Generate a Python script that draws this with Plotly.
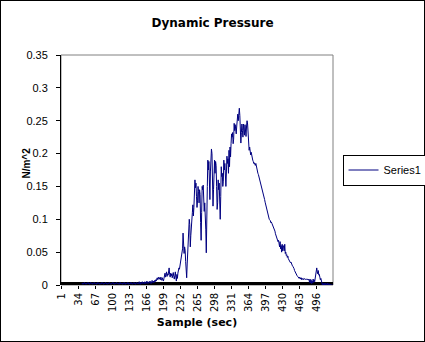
import plotly.graph_objects as go

# Dynamic pressure per sample (N/m^2); samples 1-40 carry no reading
pressure = [
    None, None, None, None, None, None, None, None, None, None,
    None, None, None, None, None, None, None, None, None, None,
    None, None, None, None, None, None, None, None, None, None,
    None, None, None, None, None, None, None, None, None, None,
    0.002, 0.003, 0.001, 0.003, 0.002, 0.004, 0.002, 0.003, 0.001, 0.003,
    0.002, 0.003, 0.004, 0.002, 0.003, 0.001, 0.002, 0.004, 0.003, 0.002,
    0.003, 0.001, 0.002, 0.003, 0.004, 0.002, 0.003, 0.002, 0.001, 0.003,
    0.002, 0.004, 0.003, 0.002, 0.003, 0.001, 0.002, 0.003, 0.002, 0.004,
    0.003, 0.002, 0.001, 0.003, 0.002, 0.003, 0.004, 0.002, 0.003, 0.001,
    0.002, 0.003, 0.002, 0.004, 0.003, 0.002, 0.001, 0.003, 0.002, 0.003,
    0.004, 0.002, 0.003, 0.001, 0.002, 0.003, 0.002, 0.004, 0.003, 0.002,
    0.003, 0.002, 0.001, 0.003, 0.004, 0.002, 0.003, 0.002, 0.003, 0.001,
    0.002, 0.003, 0.004, 0.002, 0.001, 0.003, 0.002, 0.003, 0.002, 0.004,
    0.003, 0.001, 0.002, 0.003, 0.002, 0.004, 0.002, 0.003, 0.001, 0.002,
    0.003, 0.004, 0.002, 0.003, 0.001, 0.002, 0.004, 0.003, 0.002, 0.003,
    0.002, 0.005, 0.003, 0.001, 0.004, 0.002, 0.003, 0.005, 0.002, 0.003,
    0.004, 0.002, 0.005, 0.003, 0.002, 0.004, 0.006, 0.003, 0.002, 0.004,
    0.005, 0.003, 0.006, 0.004, 0.002, 0.005, 0.007, 0.004, 0.003, 0.006,
    0.004, 0.007, 0.005, 0.008, 0.006, 0.009, 0.011, 0.008, 0.010, 0.012,
    0.009, 0.011, 0.008, 0.012, 0.010, 0.007, 0.011, 0.009, 0.006, 0.010,
    0.014, 0.018, 0.012, 0.016, 0.020, 0.013, 0.017, 0.015, 0.021, 0.026,
    0.016, 0.012, 0.018, 0.014, 0.017, 0.011, 0.015, 0.019, 0.013, 0.009,
    0.014, 0.020, 0.012, 0.006, 0.016, 0.010, 0.018, 0.022, 0.026, 0.024,
    0.030, 0.036, 0.042, 0.040, 0.046, 0.055, 0.079, 0.062, 0.048, 0.058,
    0.053, 0.036, 0.020, 0.011, 0.032, 0.055, 0.072, 0.085, 0.100, 0.092,
    0.058, 0.075, 0.094, 0.088, 0.110, 0.122, 0.105, 0.118, 0.140, 0.160,
    0.148, 0.155, 0.135, 0.118, 0.128, 0.150, 0.142, 0.125, 0.145, 0.138,
    0.095, 0.068, 0.110, 0.150, 0.145, 0.152, 0.130, 0.112, 0.125, 0.108,
    0.085, 0.049, 0.080, 0.150, 0.190, 0.175, 0.188, 0.160, 0.130, 0.172,
    0.195, 0.207, 0.200, 0.160, 0.120, 0.145, 0.178, 0.190, 0.170, 0.188,
    0.182, 0.150, 0.115, 0.125, 0.160, 0.145, 0.155, 0.130, 0.100, 0.135,
    0.180, 0.165, 0.170, 0.150, 0.158, 0.190, 0.175, 0.185, 0.160, 0.150,
    0.172, 0.196, 0.185, 0.192, 0.170, 0.205, 0.180, 0.210, 0.195, 0.215,
    0.230, 0.225, 0.232, 0.215, 0.222, 0.246, 0.235, 0.244, 0.238, 0.230,
    0.242, 0.255, 0.260, 0.250, 0.262, 0.269, 0.258, 0.240, 0.216, 0.232,
    0.245, 0.235, 0.225, 0.245, 0.240, 0.228, 0.244, 0.236, 0.226, 0.242,
    0.250, 0.245, 0.228, 0.215, 0.205, 0.210, 0.200, 0.198, 0.202, 0.195,
    0.192, 0.190, 0.188, 0.185, 0.186, 0.184, 0.182, 0.185, 0.180, 0.178,
    0.175, 0.170, 0.168, 0.165, 0.163, 0.160, 0.158, 0.155, 0.152, 0.148,
    0.145, 0.142, 0.138, 0.135, 0.130, 0.126, 0.122, 0.120, 0.115, 0.112,
    0.108, 0.107, 0.104, 0.100, 0.099, 0.098, 0.095, 0.096, 0.094, 0.092,
    0.090, 0.088, 0.089, 0.086, 0.082, 0.078, 0.075, 0.072, 0.070, 0.068,
    0.066, 0.068, 0.064, 0.058, 0.066, 0.055, 0.060, 0.050, 0.062, 0.052,
    0.060, 0.058, 0.052, 0.062, 0.048, 0.050, 0.045, 0.046, 0.042, 0.044,
    0.040, 0.038, 0.036, 0.037, 0.034, 0.035, 0.032, 0.030, 0.029, 0.028,
    0.027, 0.025, 0.022, 0.020, 0.019, 0.017, 0.016, 0.014, 0.013, 0.012,
    0.011, 0.010, 0.012, 0.010, 0.009, 0.011, 0.008, 0.010, 0.009, 0.008,
    0.010, 0.009, 0.009, 0.009, 0.008, 0.009, 0.009, 0.008, 0.009, 0.009,
    0.008, 0.004, 0.009, 0.003, 0.008, 0.002, 0.006, 0.003, 0.009, 0.004,
    0.008, 0.005, 0.010, 0.016, 0.024, 0.026, 0.020, 0.017, 0.022, 0.015,
    0.016, 0.012, 0.008, 0.010, 0.004, 0.001, 0.000, 0.003, 0.000, 0.002,
    0.000, 0.003, 0.001, 0.000, 0.002, 0.000, 0.003, 0.001, 0.000, 0.002,
    0.000, 0.001, 0.000, 0.000, 0.001, 0.000, 0.000,
]
samples = list(range(1, len(pressure) + 1))

x_tick_vals = [1, 34, 67, 100, 133, 166, 199, 232, 265, 298, 331, 364, 397, 430, 463, 496]
x_tick_text = [str(v) for v in x_tick_vals]
y_tick_vals = [0, 0.05, 0.1, 0.15, 0.2, 0.25, 0.3, 0.35]
y_tick_text = ["0", "0.05", "0.1", "0.15", "0.2", "0.25", "0.3", "0.35"]

FONT = "DejaVu Sans"
NARROW_FONT = "Liberation Sans"

fig = go.Figure(
    go.Scatter(
        x=samples, y=pressure, mode="lines", name="Series1",
        line=dict(color="#000080", width=1), connectgaps=False,
    )
)

fig.update_layout(
    width=425, height=342,
    margin=dict(l=61, r=92, t=55, b=57, autoexpand=False),
    paper_bgcolor="white", plot_bgcolor="white",
    font=dict(family=FONT, size=10, color="black"),
    title=dict(text="<b>Dynamic Pressure</b>", x=0.5, xref="container", xanchor="center",
               y=0.933, yref="container", yanchor="middle",
               font=dict(family=FONT, size=12, color="black")),
    xaxis=dict(
        range=[0.5, len(pressure) + 0.5], tickmode="array",
        tickvals=x_tick_vals, ticktext=x_tick_text, tickangle=-90,
        ticks="outside", ticklen=3, tickcolor="black",
        showline=False, showgrid=False, zeroline=False,
        tickfont=dict(family=FONT, size=10),
        title=dict(text="<b>Sample (sec)</b>", standoff=7, font=dict(family=FONT, size=11)),
    ),
    yaxis=dict(
        range=[0, 0.35], tickmode="array", tickvals=y_tick_vals, ticktext=y_tick_text,
        ticks="outside", ticklen=4, tickcolor="black",
        showline=True, linecolor="black", linewidth=1,
        showgrid=False, zeroline=False, ticklabelstandoff=6,
        tickfont=dict(family=NARROW_FONT, size=11),
    ),
    legend=dict(
        x=1.035, y=0.5, xanchor="left", yanchor="middle",
        bordercolor="black", borderwidth=1, bgcolor="white",
        font=dict(family=NARROW_FONT, size=11), itemwidth=30,
    ),
    showlegend=True,
    annotations=[
        dict(text="<b>N/m^2</b>", textangle=-90, xref="paper", yref="paper",
             x=-0.127, y=0.53, xanchor="center", yanchor="middle", showarrow=False,
             font=dict(family=NARROW_FONT, size=10)),
    ],
    shapes=[
        # grey plot-area frame (top and right edges show)
        dict(type="rect", xref="paper", yref="paper", x0=0, x1=1, y0=0, y1=1,
             line=dict(color="#808080", width=1), layer="below"),
        # dense category tick marks forming a solid band along the x axis
        dict(type="rect", xref="paper", yref="y", ysizemode="pixel", yanchor=0,
             x0=0, x1=1, y0=-3, y1=3, fillcolor="black", line=dict(width=0), layer="below"),
        # outer chart border
        dict(type="rect", xref="paper", yref="paper",
             x0=-0.22426, x1=1.33824, y0=-0.24783, y1=1.23913,
             line=dict(color="black", width=2), layer="above"),
    ],
)

fig.write_html("out.html")
